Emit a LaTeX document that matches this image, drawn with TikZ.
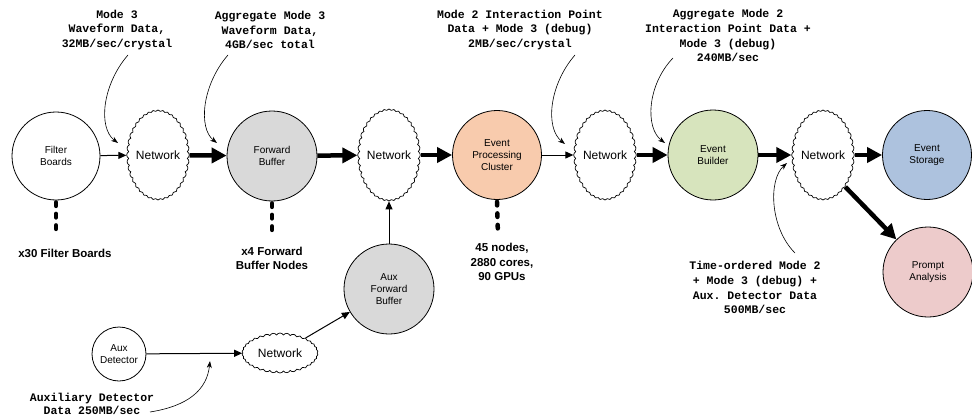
\documentclass[tikz,border=0pt]{standalone}
\usepackage{fontspec}
\setmainfont{Liberation Sans}
\newfontfamily\monof{Liberation Mono}
\usetikzlibrary{shapes.symbols,arrows.meta}
\frenchspacing
\definecolor{fwdgray}{HTML}{D9D9D9}
\definecolor{peach}{HTML}{F8CBAD}
\definecolor{lgreen}{HTML}{D7E4BD}
\definecolor{lblue}{HTML}{ADC2DE}
\definecolor{lpink}{HTML}{EDCBCB}
\tikzset{
  circ/.style={circle,draw,line width=0.8pt,minimum size=#1,inner sep=0pt,align=center,
    font=\fontsize{10}{12}\selectfont},
  net/.style={cloud,draw,line width=0.7pt,cloud puffs=40,cloud puff arc=120,cloud ignores aspect,
    inner sep=0pt,font=\fontsize{12}{14}\selectfont},
  thick arrow/.style={line width=4.5pt,-{Triangle[length=15pt,width=15pt]}},
  thin arrow/.style={line width=1pt,-{Triangle[length=8pt,width=7pt]}},
  pointer/.style={line width=0.6pt,-{Stealth[length=7pt,width=5pt]}},
  dots/.style={line width=4.5pt,line cap=round,dash pattern=on 3.5pt off 8pt},
  mlabel/.style={align=center,font=\monof\bfseries\fontsize{11.5}{14.8}\selectfont},
  blabel/.style={align=center,font=\bfseries\fontsize{11.5}{14.5}\selectfont},
}
\begin{document}
\begin{tikzpicture}[x=1pt,y=-1pt]
\useasboundingbox (0,0) rectangle (972,420);
% nodes
\node[circ=88pt] (fb) at (56,156) {Filter\\Boards};
\node[net,minimum width=60pt,minimum height=90pt] (n1) at (158,155) {Network};
\node[circ=90pt,fill=fwdgray] (fwd) at (272,156) {Forward\\Buffer};
\node[net,minimum width=58pt,minimum height=92pt] (n2) at (389,155) {Network};
\node[circ=89pt,fill=peach] (epc) at (497,155) {Event\\Processing\\Cluster};
\node[net,minimum width=60pt,minimum height=90pt] (n3) at (605,155) {Network};
\node[circ=90pt,fill=lgreen] (eb) at (713,155) {Event\\Builder};
\node[net,minimum width=60pt,minimum height=90pt] (n4) at (823,155) {Network};
\node[circ=89pt,fill=lblue] (es) at (927,155) {Event\\Storage};
\node[circ=90pt,fill=lpink] (pa) at (928,272) {Prompt\\Analysis};
\node[circ=90pt,fill=fwdgray] (afb) at (389,289) {Aux\\Forward\\Buffer};
\node[circ=54pt] (ad) at (119,354) {Aux\\Detector};
\node[net,minimum width=76pt,minimum height=40pt,cloud puffs=34] (n5) at (280,353) {Network};
% connectors
\draw[thin arrow] (fb) -- (n1);
\draw[thick arrow] (n1) -- (fwd);
\draw[thick arrow] (fwd) -- (n2);
\draw[thick arrow] (n2) -- (epc);
\draw[thin arrow] (epc) -- (n3);
\draw[thick arrow] (n3) -- (eb);
\draw[thick arrow] (eb) -- (n4);
\draw[thick arrow] (n4) -- (es);
\draw[thick arrow] (n4.-55) -- (pa);
\draw[thin arrow] (afb) -- (n2);
\draw[thin arrow] (ad) -- (n5);
\draw[thin arrow] (n5) -- (afb);
% dotted multiplicity marks
\coordinate (d1) at (56,236);
\coordinate (d2) at (272,236);
\coordinate (d3) at (498,236);
\draw[dots] (fb.south) ++(0,2) -- (d1);
\draw[dots] (fwd.south) ++(0,2) -- (d2);
\draw[dots] (epc.south) ++(0,2) -- (d3);
\node[blabel] (l1) at (65,253) {x30 Filter Boards};
\node[blabel] (l2) at (272,258.5) {x4 Forward\\Buffer Nodes};
\node[blabel] (l3) at (502,262) {45 nodes,\\2880 cores,\\90 GPUs};
% annotations
\node[mlabel] (t1) at (117,30) {Mode 3\\Waveform Data,\\32MB/sec/crystal};
\node[mlabel] (t2) at (270,30) {Aggregate Mode 3\\Waveform Data,\\4GB/sec total};
\node[mlabel] (t3) at (520,30) {Mode 2 Interaction Point\\Data + Mode 3 (debug)\\2MB/sec/crystal};
\node[mlabel] (t4) at (728,35.5) {Aggregate Mode 2\\Interaction Point Data +\\Mode 3 (debug)\\240MB/sec};
\node[mlabel] (t5) at (755,287.5) {Time-ordered Mode 2\\+ Mode 3 (debug) +\\Aux. Detector Data\\500MB/sec};
\node[mlabel,font=\monof\bfseries\fontsize{11.5}{13.5}\selectfont] (t6) at (92,404) {Auxiliary Detector\\Data 250MB/sec};
\coordinate (p1s) at (128,55);  \coordinate (p1e) at (118,143);
\coordinate (p2s) at (228,55);  \coordinate (p2e) at (217,143);
\coordinate (p3s) at (575,55);  \coordinate (p3e) at (565,144);
\coordinate (p4s) at (673,58);  \coordinate (p4e) at (665,143);
\coordinate (p5s) at (795,253); \coordinate (p5e) at (787,163);
\coordinate (p6s) at (150,412); \coordinate (p6e) at (210,361);
\draw[pointer] (p1s) .. controls (102,85) and (98,128) .. (p1e);
\draw[pointer] (p2s) .. controls (202,85) and (198,128) .. (p2e);
\draw[pointer] (p3s) .. controls (549,85) and (545,128) .. (p3e);
\draw[pointer] (p4s) .. controls (647,85) and (645,128) .. (p4e);
\draw[pointer] (p5s) .. controls (770,228) and (768,180) .. (p5e);
\draw[pointer] (p6s) .. controls (188,406) and (207,390) .. (p6e);
\end{tikzpicture}
\end{document}
